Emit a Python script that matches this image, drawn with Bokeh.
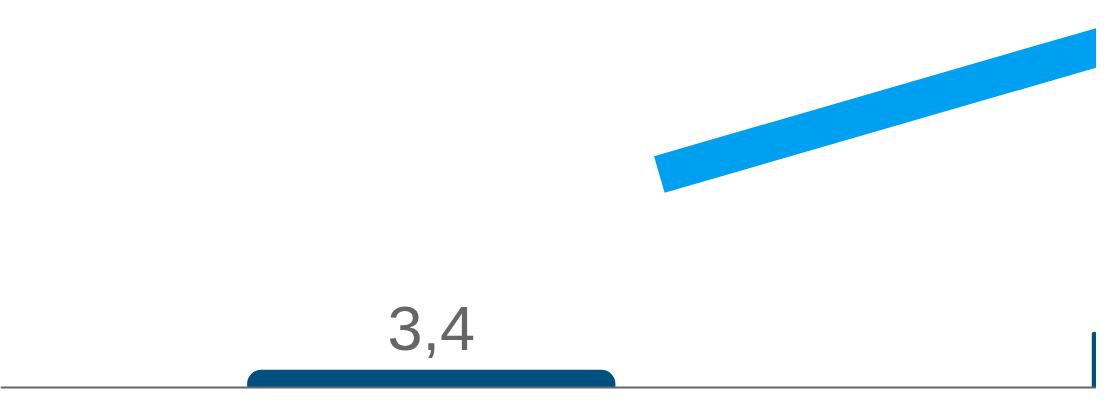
from bokeh.plotting import figure
from bokeh.models import Range1d, Span, ColumnDataSource
from bokeh.core.properties import value
from bokeh.embed import file_html
from bokeh.resources import INLINE

# data
bar_x = [0, 1]
bar_values = [3.4, 10.7]
bar_labels = ["3,4", "10,7"]
line_x = [0.27, 1.0]
line_y = [40.8, 75.0]

BAR_COLOR = "#00507F"
LINE_COLOR = "#00A0F0"
TEXT_COLOR = "#666666"

p = figure(width=1096, height=389, output_backend="svg", toolbar_location=None,
           x_range=Range1d(-0.51, 0.7876), y_range=Range1d(-0.37, 74.1),
           min_border=0, min_border_left=0, min_border_right=0,
           min_border_top=0, min_border_bottom=0)
p.axis.visible = False
p.xaxis.visible = False
p.yaxis.visible = False
p.grid.visible = False
p.outline_line_color = None
p.background_fill_color = "white"
p.border_fill_color = "white"

src = ColumnDataSource(dict(x=bar_x, top=bar_values, label=bar_labels))
p.vbar(x="x", top="top", bottom=0, width=0.436, source=src,
       fill_color=BAR_COLOR, line_color=None, border_radius=(14, 14, 0, 0))

p.text(x=[bar_x[0]], y=[bar_values[0]], text=[bar_labels[0]],
       text_align="center", text_baseline="alphabetic", y_offset=-41,
       text_font=value("Liberation Sans"), text_font_size="63px",
       text_color=TEXT_COLOR)

p.line(x=line_x, y=line_y, line_color=LINE_COLOR, line_width=38, line_cap="butt")

p.add_layout(Span(location=0, dimension="width", line_color=TEXT_COLOR,
                  line_width=2, level="overlay"))

open("out.html", "w").write(file_html(p, INLINE))
